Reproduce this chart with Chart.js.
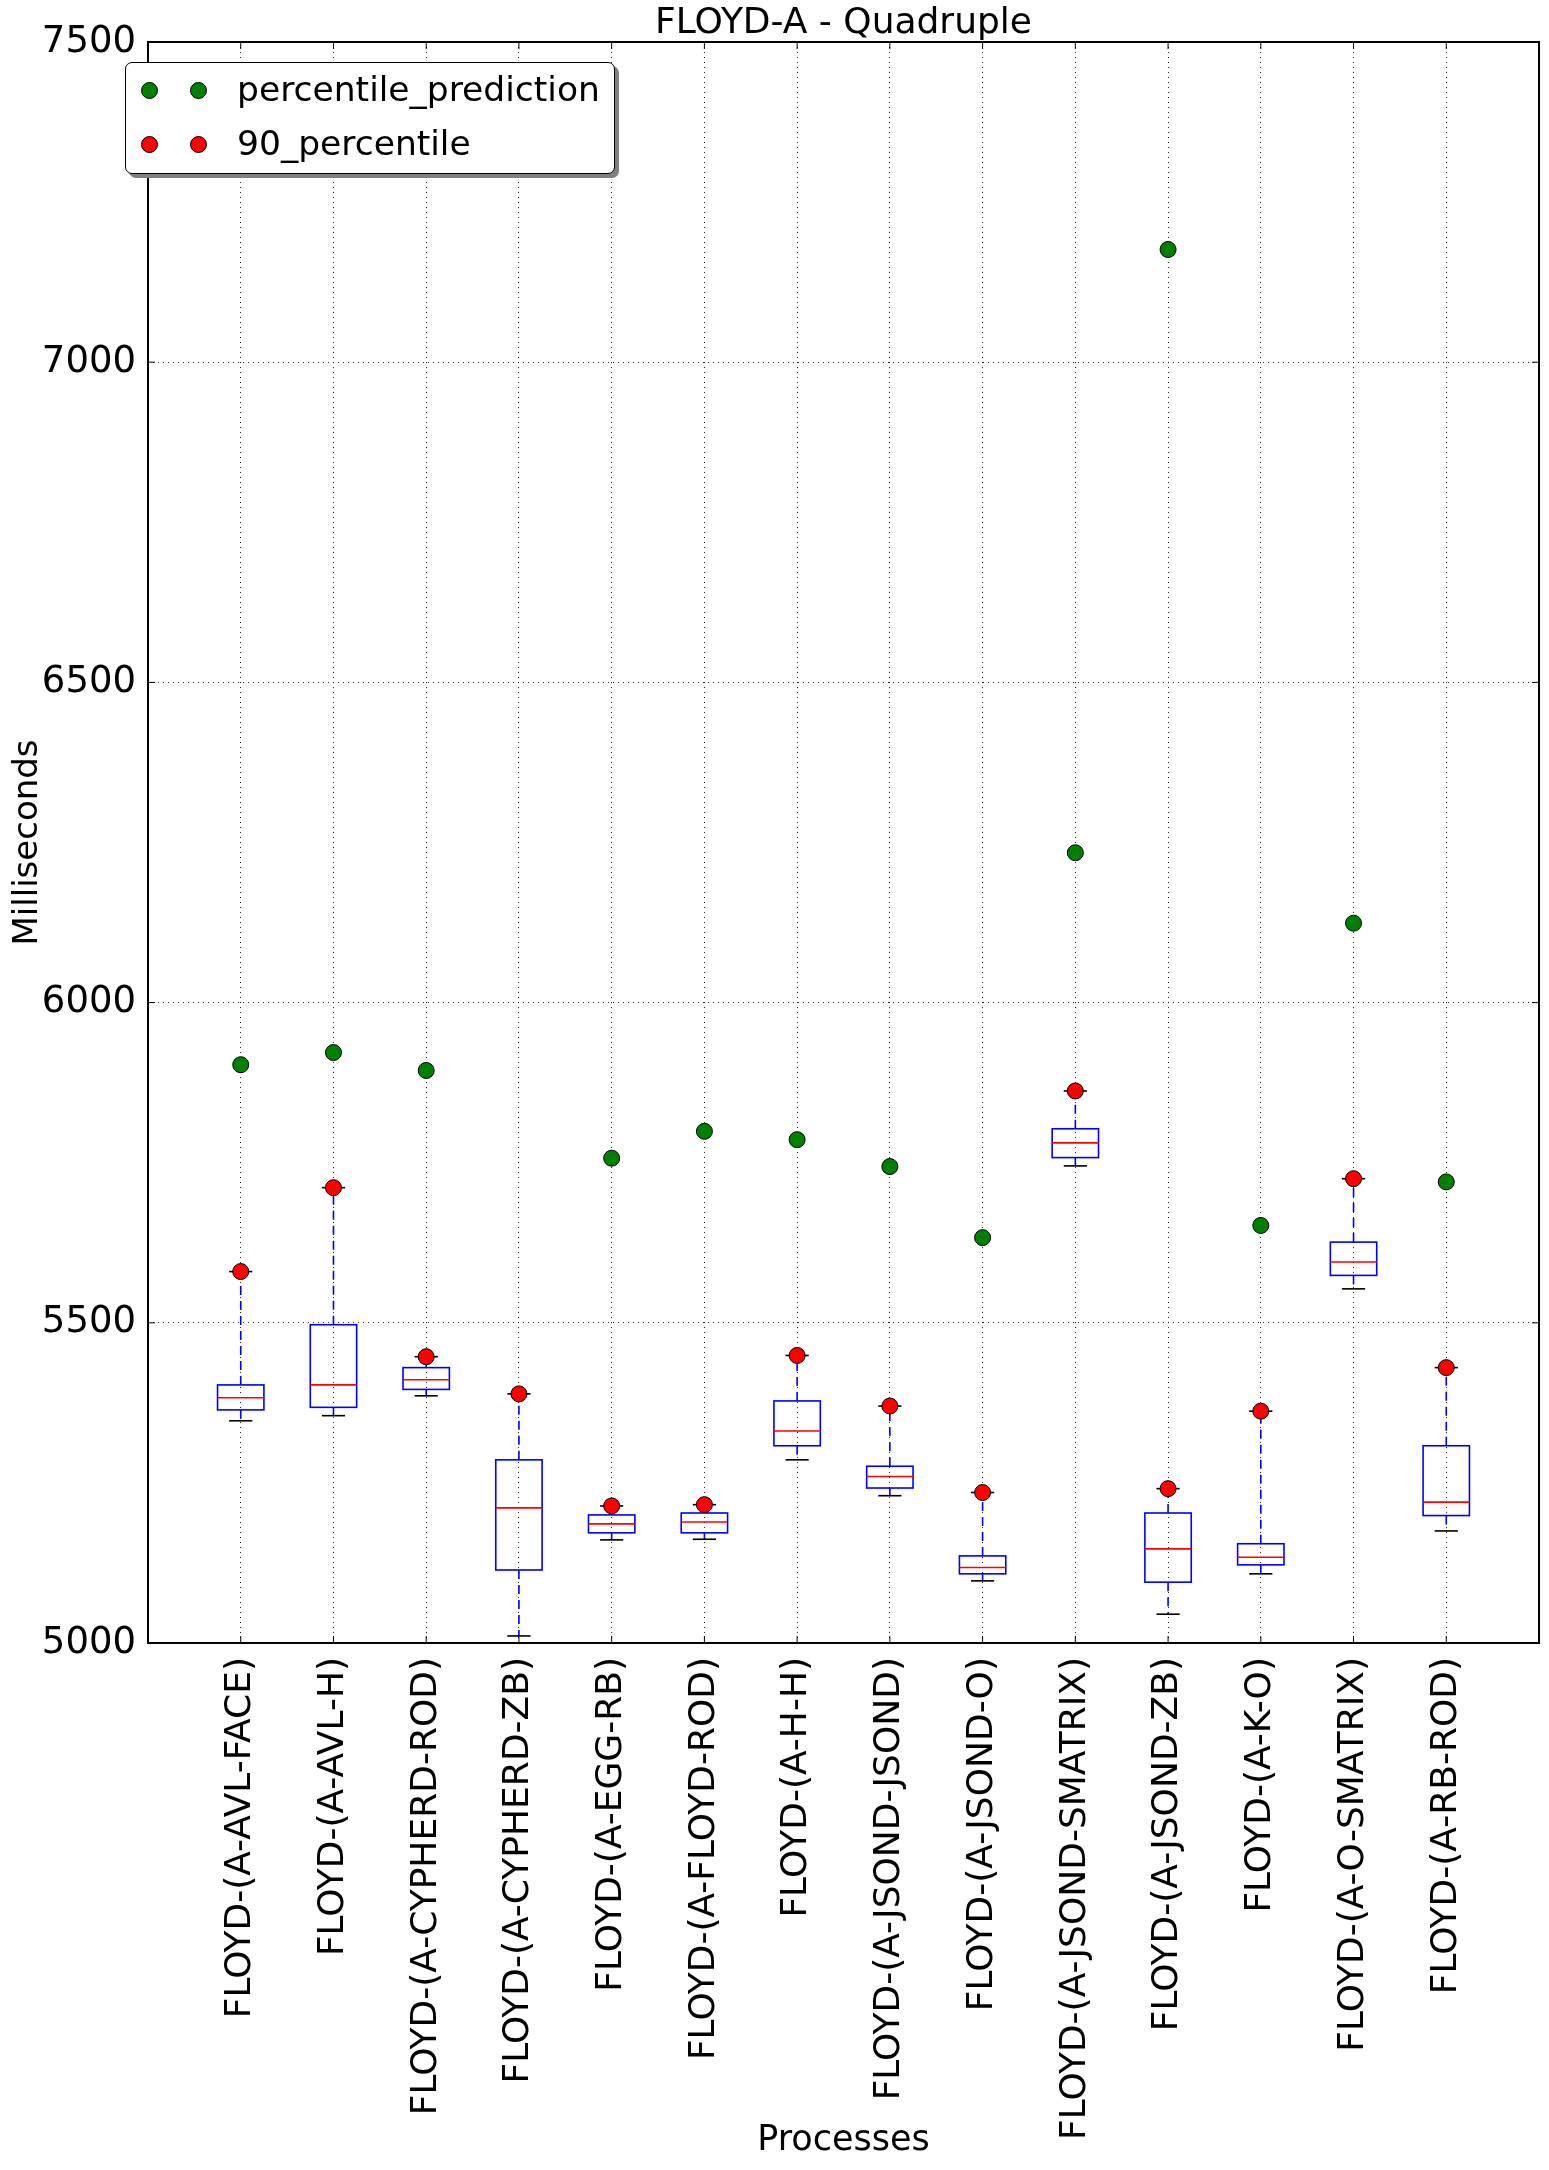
<!DOCTYPE html>
<html>
<head>
<meta charset="utf-8">
<title>FLOYD-A - Quadruple</title>
<script src="https://cdn.jsdelivr.net/npm/chart.js@4.4.1/dist/chart.umd.min.js"></script>
<style>
  html, body { margin: 0; padding: 0; background: #fff; }
  #wrap { position: relative; width: 1549px; height: 2170px; }
  #legend {
    position: absolute; left: 125px; top: 62px; width: 490px; height: 112px;
    box-sizing: border-box; border: 1.5px solid #000; border-radius: 7px;
    background: #fff; box-shadow: 4px 4px 0 #808080;
    font: 34.5px 'DejaVu Sans', sans-serif; color: #000;
  }
  #legend .dot {
    position: absolute; width: 15px; height: 15px; margin: -8px 0 0 -8px;
    border-radius: 50%; border: 1px solid #000;
  }
  #legend .txt { position: absolute; left: 111px; line-height: 40px; margin-top: -21px; white-space: nowrap; }
</style>
</head>
<body>
<div id="wrap">
  <canvas id="boxChart" width="1549" height="2170"></canvas>
  <div id="legend"></div>
</div>
<script>
// categories (one box per process)
const categories = [
  'FLOYD-(A-AVL-FACE)', 'FLOYD-(A-AVL-H)', 'FLOYD-(A-CYPHERD-ROD)', 'FLOYD-(A-CYPHERD-ZB)',
  'FLOYD-(A-EGG-RB)', 'FLOYD-(A-FLOYD-ROD)', 'FLOYD-(A-H-H)', 'FLOYD-(A-JSOND-JSOND)',
  'FLOYD-(A-JSOND-O)', 'FLOYD-(A-JSOND-SMATRIX)', 'FLOYD-(A-JSOND-ZB)', 'FLOYD-(A-K-O)',
  'FLOYD-(A-O-SMATRIX)', 'FLOYD-(A-RB-ROD)'
];

// box plot statistics (ms)
const whiskerLo = [5347, 5355, 5386, 5011, 5161, 5162, 5286, 5230, 5097, 5745, 5045, 5108, 5553, 5175];
const q1        = [5364, 5368, 5396, 5114, 5172, 5172, 5308, 5242, 5108, 5758, 5095, 5122, 5574, 5199];
const median    = [5383, 5403, 5411, 5211, 5186, 5189, 5331, 5260, 5118, 5781, 5147, 5134, 5595, 5220];
const q3        = [5403, 5497, 5430, 5286, 5200, 5203, 5378, 5276, 5136, 5803, 5203, 5155, 5626, 5308];
const whiskerHi = [5580, 5711, 5447, 5389, 5214, 5216, 5449, 5370, 5235, 5862, 5241, 5362, 5725, 5430];

// scatter series
const prediction   = [5903, 5922, 5894, null, 5757, 5799, 5786, 5744, 5633, 6234, 7176, 5652, 6124, 5720];
const percentile90 = [5580, 5711, 5447, 5389, 5214, 5216, 5449, 5370, 5235, 5862, 5241, 5362, 5725, 5430];

// y axis
const yMin = 5000, yMax = 7500, yStep = 500;

const FONT = "'DejaVu Sans', sans-serif";
Chart.defaults.color = '#000';
Chart.defaults.font.family = FONT;

const toPoints = arr => arr.map((v, i) => ({ x: i + 1, y: v }));

// boxes, whiskers, caps and medians drawn on the library scales
const boxPlot = {
  id: 'boxPlot',
  beforeDatasetsDraw(chart) {
    const { ctx, scales: { x, y } } = chart;
    const seg = (x1, y1, x2, y2) => { ctx.beginPath(); ctx.moveTo(x1, y1); ctx.lineTo(x2, y2); ctx.stroke(); };
    ctx.save();
    categories.forEach((_, i) => {
      const p = i + 1;
      const cx = x.getPixelForValue(p);
      const bl = x.getPixelForValue(p - 0.25), br = x.getPixelForValue(p + 0.25);
      const cl = x.getPixelForValue(p - 0.125), cr = x.getPixelForValue(p + 0.125);
      const yLo = y.getPixelForValue(whiskerLo[i]), yHi = y.getPixelForValue(whiskerHi[i]);
      const y1 = y.getPixelForValue(q1[i]), y3 = y.getPixelForValue(q3[i]);
      const ym = y.getPixelForValue(median[i]);

      ctx.strokeStyle = '#0000ff';
      ctx.lineWidth = 1.6;
      ctx.setLineDash([9, 6]);
      seg(cx, y3, cx, yHi);
      seg(cx, y1, cx, yLo);
      ctx.setLineDash([]);

      ctx.strokeStyle = '#000';
      seg(cl, yHi, cr, yHi);
      seg(cl, yLo, cr, yLo);

      ctx.strokeStyle = '#0000ff';
      ctx.strokeRect(bl, y3, br - bl, y1 - y3);

      ctx.strokeStyle = '#ff0000';
      seg(bl, ym, br, ym);
    });
    ctx.restore();
  }
};

// full frame with inward ticks (matplotlib classic look)
const frame = {
  id: 'frame',
  afterDatasetsDraw(chart) {
    const { ctx, chartArea: a, scales: { x, y } } = chart;
    const len = 7;
    ctx.save();
    ctx.strokeStyle = '#000';
    ctx.lineWidth = 1;
    y.ticks.forEach(t => {
      const py = y.getPixelForValue(t.value);
      ctx.beginPath();
      ctx.moveTo(a.left, py); ctx.lineTo(a.left + len, py);
      ctx.moveTo(a.right, py); ctx.lineTo(a.right - len, py);
      ctx.stroke();
    });
    x.ticks.forEach(t => {
      if (t.value < 1 || t.value > categories.length) return;
      const px = x.getPixelForValue(t.value);
      ctx.beginPath();
      ctx.moveTo(px, a.bottom); ctx.lineTo(px, a.bottom - len);
      ctx.moveTo(px, a.top); ctx.lineTo(px, a.top + len);
      ctx.stroke();
    });
    ctx.lineWidth = 2;
    ctx.strokeRect(a.left, a.top, a.right - a.left, a.bottom - a.top);
    ctx.restore();
  }
};

const chart = new Chart(document.getElementById('boxChart'), {
  type: 'scatter',
  data: {
    datasets: [
      { label: 'percentile_prediction', data: toPoints(prediction),
        backgroundColor: '#008000', borderColor: '#000', borderWidth: 1,
        pointRadius: 8, pointHoverRadius: 8 },
      { label: '90_percentile', data: toPoints(percentile90),
        backgroundColor: '#ff0000', borderColor: '#000', borderWidth: 1,
        pointRadius: 8, pointHoverRadius: 8 }
    ]
  },
  options: {
    responsive: false,
    animation: false,
    layout: { padding: { left: 0, right: 10, top: 0, bottom: 0 } },
    plugins: {
      legend: { display: false },
      tooltip: { enabled: false },
      title: {
        display: true, fullSize: false, text: 'FLOYD-A - Quadruple', color: '#000',
        font: { size: 36, weight: 'normal', lineHeight: 1 },
        padding: { top: 6, bottom: 0 }
      }
    },
    scales: {
      x: {
        type: 'linear', min: 0, max: categories.length + 1,
        border: { display: false, dash: [1, 4] },
        grid: {
          color: c => (c.tick.value >= 1 && c.tick.value <= categories.length) ? 'rgba(0,0,0,0.85)' : 'transparent',
          lineWidth: 1, drawTicks: false
        },
        ticks: {
          stepSize: 1, autoSkip: false, maxRotation: 90, minRotation: 90,
          padding: 14, color: '#000', font: { size: 36 },
          callback: v => categories[v - 1] || ''
        },
        title: { display: true, text: 'Processes', color: '#000', font: { size: 35 }, padding: { top: 0, bottom: 8 } },
        afterFit: s => { s.height = 527; s.paddingLeft = 0; s.paddingRight = 0; }
      },
      y: {
        min: yMin, max: yMax,
        border: { display: false, dash: [1, 4] },
        grid: { color: 'rgba(0,0,0,0.85)', lineWidth: 1, drawTicks: false },
        ticks: { stepSize: yStep, padding: 12, color: '#000', font: { size: 37 }, callback: v => String(v) },
        title: { display: true, text: 'Milliseconds', color: '#000', font: { size: 34 }, padding: { top: 8, bottom: 0 } },
        afterFit: s => { s.width = 148; }
      }
    }
  },
  plugins: [boxPlot, frame]
});

// legend box built from the scatter datasets (two markers per entry)
const legendEl = document.getElementById('legend');
chart.data.datasets.forEach((ds, i) => {
  const cy = 27 + i * 54;
  [23, 72].forEach(cx => {
    const d = document.createElement('span');
    d.className = 'dot';
    d.style.left = cx + 'px';
    d.style.top = cy + 'px';
    d.style.background = ds.backgroundColor;
    legendEl.appendChild(d);
  });
  const t = document.createElement('span');
  t.className = 'txt';
  t.style.top = cy + 'px';
  t.textContent = ds.label;
  legendEl.appendChild(t);
});
</script>
</body>
</html>
